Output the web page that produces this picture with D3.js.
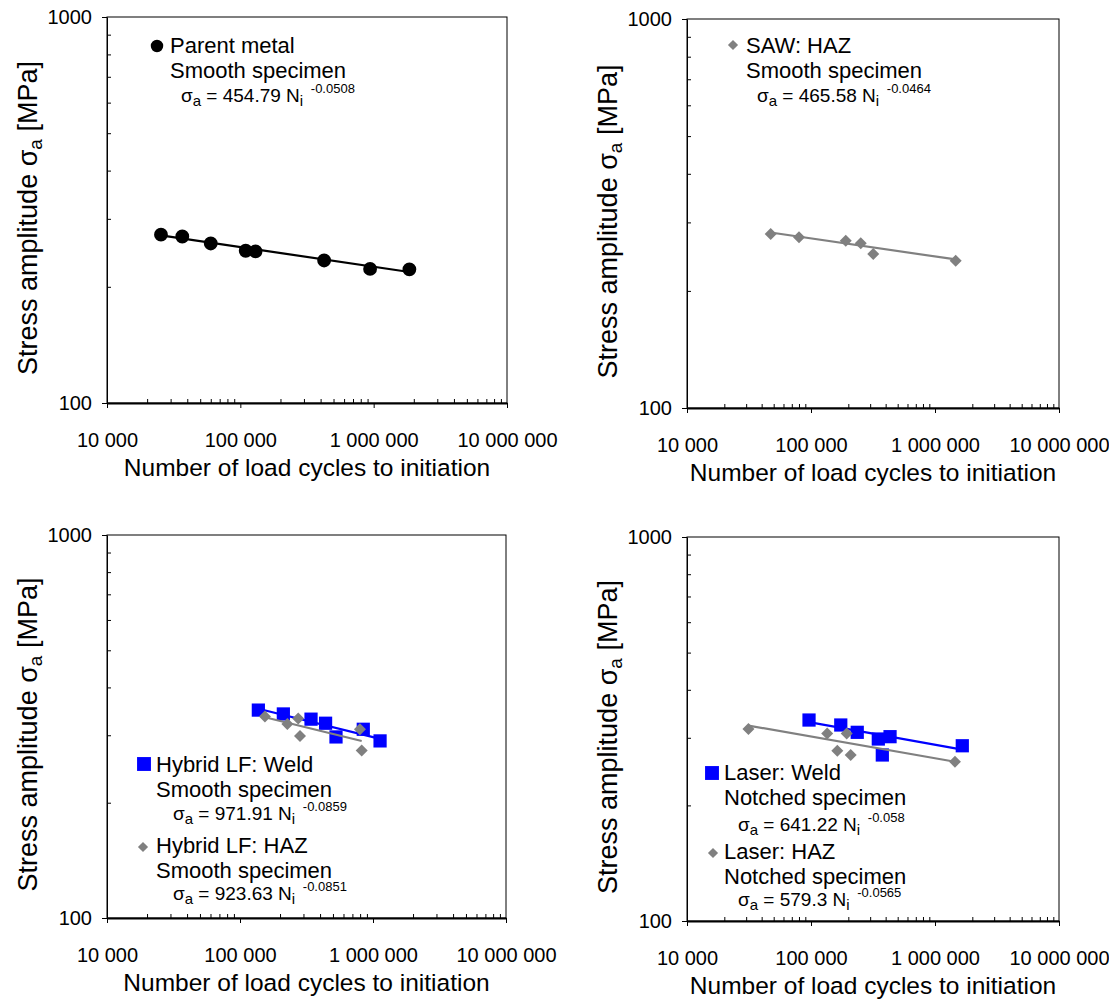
<!DOCTYPE html>
<html>
<head>
<meta charset="utf-8">
<title>S-N initiation</title>
<script src="https://d3js.org/d3.v7.min.js"></script>
<style>
  html, body { margin: 0; padding: 0; background: #fff; }
  svg { font-family: "Liberation Sans", Arial, sans-serif; }
  .axis text { font-size: 20px; fill: #000; }
</style>
</head>
<body>
<script>

// parent metal, smooth
const pmCycles = [25400, 36700, 60000, 109700, 130000, 425000, 940000, 1853000];
const pmStress = [273, 270, 259, 248, 247, 234, 222.5, 222];

// SAW HAZ, smooth
const sawCycles = [47300, 80000, 190600, 251800, 317800, 1469000];
const sawStress = [280, 274.6, 269, 265, 248.8, 239];

// hybrid LF weld / HAZ, smooth
const hybWeldCycles = [137400, 211800, 342000, 440000, 527000, 845000, 1130000];
const hybWeldStress = [349, 341, 330.5, 322.5, 297, 311, 290];
const hybHazCycles = [154000, 227000, 274000, 282500, 798000, 822000];
const hybHazStress = [336, 320.9, 332, 298.5, 311, 273.6];

// laser weld / HAZ, notched
const lasWeldCycles = [96400, 173800, 236000, 349000, 376000, 434000, 1660000];
const lasWeldStress = [333.7, 323.9, 310, 297.8, 270.6, 302, 286];
const lasHazCycles = [31300, 135000, 163000, 194000, 209000, 1449000];
const lasHazStress = [316, 308, 277.5, 308, 270.6, 260];

// fitted Basquin curves
const pmFit = [454.79, -0.0508];
const sawFit = [465.58, -0.0464];
const hybWeldFit = [971.91, -0.0859];
const hybHazFit = [923.63, -0.0851];
const lasWeldFit = [641.22, -0.058];
const lasHazFit = [579.3, -0.0565];

const xMajor = [1e4, 1e5, 1e6, 1e7];
const yMajor = [100, 1000];

const BLUE = "#0000ff", GREY = "#808080";

const svg = d3.select("body").append("svg")
  .attr("width", 1109).attr("height", 1003);

const fmt = d => d3.format(",")(d).replace(/,/g, " ");

let xMinor = [], yMinor = [];
for (let e = 4; e < 7; e++) for (let k = 2; k <= 9; k++) xMinor.push(k * Math.pow(10, e));
for (let k = 2; k <= 9; k++) yMinor.push(k * 100);

function symbolFor(kind) {
  if (kind == "circle") return d3.symbol(d3.symbolCircle, 150);
  if (kind == "square") return d3.symbol(d3.symbolSquare, 175);
  return d3.symbol(d3.symbolSquare, 72); // rotated -> diamond
}

function marker(g, kind, x, y, color, scale) {
  let p = g.append("path")
    .attr("d", symbolFor(kind)())
    .attr("fill", color);
  let t = "translate(" + x + "," + y + ")";
  if (scale) t += " scale(" + scale + ")";
  if (kind == "diamond") t += " rotate(45)";
  p.attr("transform", t);
}

function equation(g, x, y, fit) {
  let t = g.append("text").attr("x", x).attr("y", y).attr("font-size", 19);
  t.append("tspan").text("σ");
  t.append("tspan").attr("font-size", 15).attr("dy", 4).text("a");
  t.append("tspan").attr("dy", -4).text(" = " + fit[0] + " N");
  t.append("tspan").attr("font-size", 15).attr("dy", 4).text("i");
  t.append("tspan").attr("font-size", 13).attr("dy", -13).attr("dx", 4).text(" " + fit[1]);
}

function legendText(g, x, y, lines) {
  lines.forEach((s, i) => {
    g.append("text").attr("x", x).attr("y", y + i * 25)
      .attr("font-size", 22).text(s);
  });
}

function panel(box, series) {
  const x = d3.scaleLog().domain([1e4, 1e7]).range([box.left, box.right]);
  const y = d3.scaleLog().domain([100, 1000]).range([box.bottom, box.top]);
  const g = svg.append("g");

  // minor ticks (inside)
  g.append("g").attr("class", "axis")
    .attr("transform", "translate(0," + box.bottom + ")")
    .call(d3.axisBottom(x).tickValues(xMinor).tickSize(-4).tickSizeOuter(0).tickFormat(""))
    .call(a => a.select(".domain").remove());
  g.append("g").attr("class", "axis")
    .attr("transform", "translate(" + box.left + ",0)")
    .call(d3.axisLeft(y).tickValues(yMinor).tickSize(-4).tickSizeOuter(0).tickFormat(""))
    .call(a => a.select(".domain").remove());

  // frame
  g.append("rect")
    .attr("x", box.left).attr("y", box.top)
    .attr("width", box.right - box.left).attr("height", box.bottom - box.top)
    .attr("fill", "none").attr("stroke", "#000").attr("stroke-width", 1);

  // major axes
  g.append("g").attr("class", "axis")
    .attr("transform", "translate(0," + box.bottom + ")")
    .call(d3.axisBottom(x).tickValues(xMajor).tickSize(5).tickSizeOuter(0).tickPadding(25).tickFormat(fmt))
    .call(a => a.select(".domain").attr("stroke-width", 2));
  g.append("g").attr("class", "axis")
    .attr("transform", "translate(" + box.left + ",0)")
    .call(d3.axisLeft(y).tickValues(yMajor).tickSize(5).tickSizeOuter(0).tickPadding(10).tickFormat(d3.format("d")));

  // titles
  g.append("text")
    .attr("x", (box.left + box.right) / 2).attr("y", box.bottom + 73)
    .attr("text-anchor", "middle").attr("font-size", 24.5)
    .text("Number of load cycles to initiation");
  const yt = g.append("text")
    .attr("transform", "translate(" + (box.left - 70) + "," + ((box.top + box.bottom) / 2 + 8) + ") rotate(-90)")
    .attr("text-anchor", "middle").attr("font-size", 27);
  yt.append("tspan").text("Stress amplitude σ");
  yt.append("tspan").attr("font-size", 19).attr("dy", 5).text("a");
  yt.append("tspan").attr("dy", -5).text(" [MPa]");

  series.forEach(s => {
    const n0 = d3.min(s.cycles), n1 = d3.max(s.cycles);
    const fitLine = [n0, n1].map(n => [x(n), y(s.fit[0] * Math.pow(n, s.fit[1]))]);
    g.append("path")
      .attr("d", d3.line()(fitLine))
      .attr("stroke", s.color).attr("stroke-width", 2.2).attr("fill", "none");
    s.cycles.forEach((n, i) => marker(g, s.kind, x(n), y(s.stress[i]), s.color));
  });

  return g;
}

// top-left
let g1 = panel({left: 107, right: 507, top: 17, bottom: 403}, [
  {cycles: pmCycles, stress: pmStress, fit: pmFit, color: "#000", kind: "circle"}
]);
marker(g1, "circle", 157, 46, "#000", 0.9);
legendText(g1, 170, 53, ["Parent metal", "Smooth specimen"]);
equation(g1, 181, 102, pmFit);

// top-right
let g2 = panel({left: 687, right: 1059, top: 19, bottom: 408}, [
  {cycles: sawCycles, stress: sawStress, fit: sawFit, color: GREY, kind: "diamond"}
]);
marker(g2, "diamond", 733, 45, GREY, 0.85);
legendText(g2, 746, 53, ["SAW: HAZ", "Smooth specimen"]);
equation(g2, 757, 102, sawFit);

// bottom-left
let g3 = panel({left: 107, right: 506, top: 535, bottom: 918}, [
  {cycles: hybWeldCycles, stress: hybWeldStress, fit: hybWeldFit, color: BLUE, kind: "square"},
  {cycles: hybHazCycles, stress: hybHazStress, fit: hybHazFit, color: GREY, kind: "diamond"}
]);
marker(g3, "square", 144, 764, BLUE, 1.05);
legendText(g3, 156, 772, ["Hybrid LF: Weld", "Smooth specimen"]);
equation(g3, 173, 820, hybWeldFit);
marker(g3, "diamond", 143, 847, GREY, 0.85);
legendText(g3, 156, 853, ["Hybrid LF: HAZ", "Smooth specimen"]);
equation(g3, 173, 900, hybHazFit);

// bottom-right
let g4 = panel({left: 687, right: 1059, top: 537, bottom: 921}, [
  {cycles: lasWeldCycles, stress: lasWeldStress, fit: lasWeldFit, color: BLUE, kind: "square"},
  {cycles: lasHazCycles, stress: lasHazStress, fit: lasHazFit, color: GREY, kind: "diamond"}
]);
marker(g4, "square", 712, 773, BLUE, 1.05);
legendText(g4, 724, 780, ["Laser: Weld", "Notched specimen"]);
equation(g4, 738, 831, lasWeldFit);
marker(g4, "diamond", 713, 853, GREY, 0.85);
legendText(g4, 724, 859, ["Laser: HAZ", "Notched specimen"]);
equation(g4, 738, 906, lasHazFit);

</script>
</body>
</html>
